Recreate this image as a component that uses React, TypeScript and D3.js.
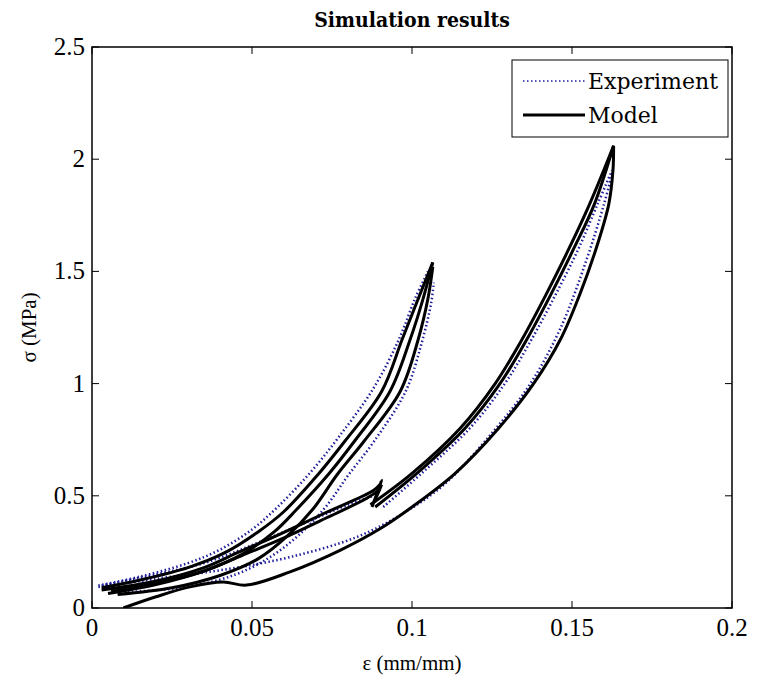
import React from "react";
import * as d3 from "d3";

type P = [number, number];

const xTicks = [0, 0.05, 0.1, 0.15, 0.2];
const yTicks = [0, 0.5, 1, 1.5, 2, 2.5];

// Model (black) curves — strain (mm/mm), stress (MPa)
const model1: P[] = [[0.003, 0.09], [0.015, 0.125], [0.03, 0.18], [0.042, 0.25], [0.052, 0.34], [0.06, 0.43], [0.0707, 0.596], [0.079, 0.743], [0.0905, 0.965], [0.097, 1.2], [0.102, 1.38], [0.1065, 1.54]];
const model2: P[] = [[0.006, 0.075], [0.02, 0.11], [0.035, 0.165], [0.047, 0.24], [0.057, 0.34], [0.064, 0.44], [0.0739, 0.596], [0.082, 0.743], [0.0931, 0.965], [0.0995, 1.2], [0.1035, 1.38], [0.1065, 1.54]];
const model3: P[] = [[0.008, 0.06], [0.025, 0.09], [0.04, 0.145], [0.052, 0.22], [0.061, 0.32], [0.069, 0.44], [0.0767, 0.596], [0.085, 0.743], [0.0963, 0.965], [0.102, 1.2], [0.105, 1.38], [0.1065, 1.52]];
const model4: P[] = [[0.003, 0.08], [0.02, 0.12], [0.035, 0.18], [0.046, 0.25], [0.0567, 0.316], [0.0723, 0.42], [0.0878, 0.522], [0.09, 0.55]];
const model5: P[] = [[0.005, 0.065], [0.02, 0.105], [0.035, 0.165], [0.047, 0.235], [0.058, 0.3], [0.073, 0.4], [0.086, 0.49], [0.09, 0.53]];
const model6: P[] = [[0.087, 0.46], [0.1, 0.6], [0.115, 0.8], [0.126, 1.0], [0.1345, 1.2], [0.142, 1.4], [0.149, 1.6], [0.1555, 1.8], [0.163, 2.06]];
const model8: P[] = [[0.163, 2.06], [0.157, 1.8], [0.1505, 1.6], [0.1435, 1.4], [0.136, 1.2], [0.1275, 1.0], [0.1165, 0.8], [0.1015, 0.6], [0.0885, 0.45]];
const model7: P[] = [[0.0098, 0.0], [0.02, 0.05], [0.0306, 0.094], [0.041, 0.116], [0.0483, 0.102], [0.0619, 0.161], [0.0775, 0.257], [0.09, 0.353], [0.1, 0.45], [0.1135, 0.6], [0.127, 0.8], [0.138, 1.0], [0.1465, 1.2], [0.1525, 1.4], [0.1575, 1.6], [0.1615, 1.8], [0.1628, 1.95], [0.163, 2.06]];
const model9: P[] = [[0.0875, 0.45], [0.0905, 0.57], [0.0885, 0.48], [0.0905, 0.55]];

// Experiment (blue dotted) curves
const exp1: P[] = [[0.002, 0.1], [0.015, 0.14], [0.03, 0.2], [0.04, 0.26], [0.05, 0.35], [0.058, 0.45], [0.068, 0.6], [0.077, 0.76], [0.088, 0.98], [0.096, 1.2], [0.101, 1.38], [0.105, 1.5]];
const exp2: P[] = [[0.01, 0.07], [0.03, 0.095], [0.045, 0.15], [0.056, 0.23], [0.065, 0.33], [0.073, 0.45], [0.08, 0.59], [0.088, 0.74], [0.098, 0.965], [0.103, 1.18], [0.106, 1.36], [0.1068, 1.45]];
const exp3: P[] = [[0.002, 0.094], [0.02, 0.13], [0.0431, 0.175], [0.0619, 0.227], [0.0827, 0.316], [0.097, 0.42], [0.11, 0.55], [0.125, 0.78], [0.137, 1.0], [0.1465, 1.25], [0.1545, 1.55], [0.16, 1.8], [0.1628, 1.95]];
const exp4: P[] = [[0.091, 0.45], [0.103, 0.6], [0.118, 0.8], [0.129, 1.0], [0.1375, 1.2], [0.145, 1.4], [0.152, 1.6], [0.158, 1.8], [0.1625, 1.95]];
const exp5: P[] = [[0.003, 0.1], [0.02, 0.15], [0.035, 0.2], [0.05, 0.28], [0.065, 0.37], [0.08, 0.46], [0.088, 0.5]];

const modelCurves = [model1, model2, model3, model4, model5, model6, model7, model8, model9];
const expCurves = [exp1, exp2, exp3, exp4, exp5];

const W = 769, H = 676;
const L = 92, R = 732, T = 47, B = 608;
const BLUE = "#1f1f9a";

export default function App() {
  const x = d3.scaleLinear().domain([0, 0.2]).range([L, R]);
  const y = d3.scaleLinear().domain([0, 2.5]).range([B, T]);
  const line = d3.line<P>().x(d => x(d[0])).y(d => y(d[1])).curve(d3.curveCatmullRom.alpha(0.5));
  const tickFont = "'Liberation Serif', 'Times New Roman', serif";
  const titleFont = "'DejaVu Serif Condensed', 'DejaVu Serif', serif";
  const legendFont = "'DejaVu Serif', serif";
  return (
    <svg width={W} height={H} style={{ position: "absolute", left: 0, top: 0, background: "#fff" }}>
      <rect x={0} y={0} width={W} height={H} fill="#fff" />
      <text x={(L + R) / 2} y={27} textAnchor="middle" fontFamily={titleFont} fontWeight="bold" fontSize={21}>Simulation results</text>
      <defs>
        <clipPath id="plotclip"><rect x={L} y={T} width={R - L} height={B - T} /></clipPath>
      </defs>
      <g clipPath="url(#plotclip)">
        {expCurves.map((c, i) => (
          <path key={"e" + i} d={line(c) || ""} fill="none" stroke={BLUE} strokeWidth={2.5} strokeDasharray="1.5,2.5" />
        ))}
        {modelCurves.map((c, i) => (
          <path key={"m" + i} d={line(c) || ""} fill="none" stroke="#000" strokeWidth={3} strokeLinejoin="round" />
        ))}
      </g>
      <rect x={L} y={T} width={R - L} height={B - T} fill="none" stroke="#000" strokeWidth={1.5} />
      {xTicks.map(t => (
        <g key={"xt" + t}>
          <line x1={x(t)} x2={x(t)} y1={B} y2={B - 7} stroke="#000" strokeWidth={1} />
          <line x1={x(t)} x2={x(t)} y1={T} y2={T + 7} stroke="#000" strokeWidth={1} />
          <text x={x(t)} y={B + 28} textAnchor="middle" fontFamily={tickFont} fontSize={25}>{String(t)}</text>
        </g>
      ))}
      {yTicks.map(t => (
        <g key={"yt" + t}>
          <line x1={L} x2={L + 7} y1={y(t)} y2={y(t)} stroke="#000" strokeWidth={1} />
          <line x1={R} x2={R - 7} y1={y(t)} y2={y(t)} stroke="#000" strokeWidth={1} />
          <text x={L - 7} y={y(t) + 8} textAnchor="end" fontFamily={tickFont} fontSize={25}>{String(t)}</text>
        </g>
      ))}
      <text x={(L + R) / 2} y={670} textAnchor="middle" fontFamily={tickFont} fontSize={21}>ε (mm/mm)</text>
      <text transform={`translate(36,${(T + B) / 2}) rotate(-90)`} textAnchor="middle" fontFamily={tickFont} fontSize={21}>σ (MPa)</text>
      <g>
        <rect x={512} y={60} width={216} height={77} fill="#fff" stroke="#000" strokeWidth={1} />
        <line x1={523} x2={585} y1={81} y2={81} stroke={BLUE} strokeWidth={1.5} strokeDasharray="1.5,2.5" />
        <text x={588} y={89} fontFamily={legendFont} fontSize={22}>Experiment</text>
        <line x1={523} x2={585} y1={115} y2={115} stroke="#000" strokeWidth={3} />
        <text x={588} y={123} fontFamily={legendFont} fontSize={22}>Model</text>
      </g>
    </svg>
  );
}
